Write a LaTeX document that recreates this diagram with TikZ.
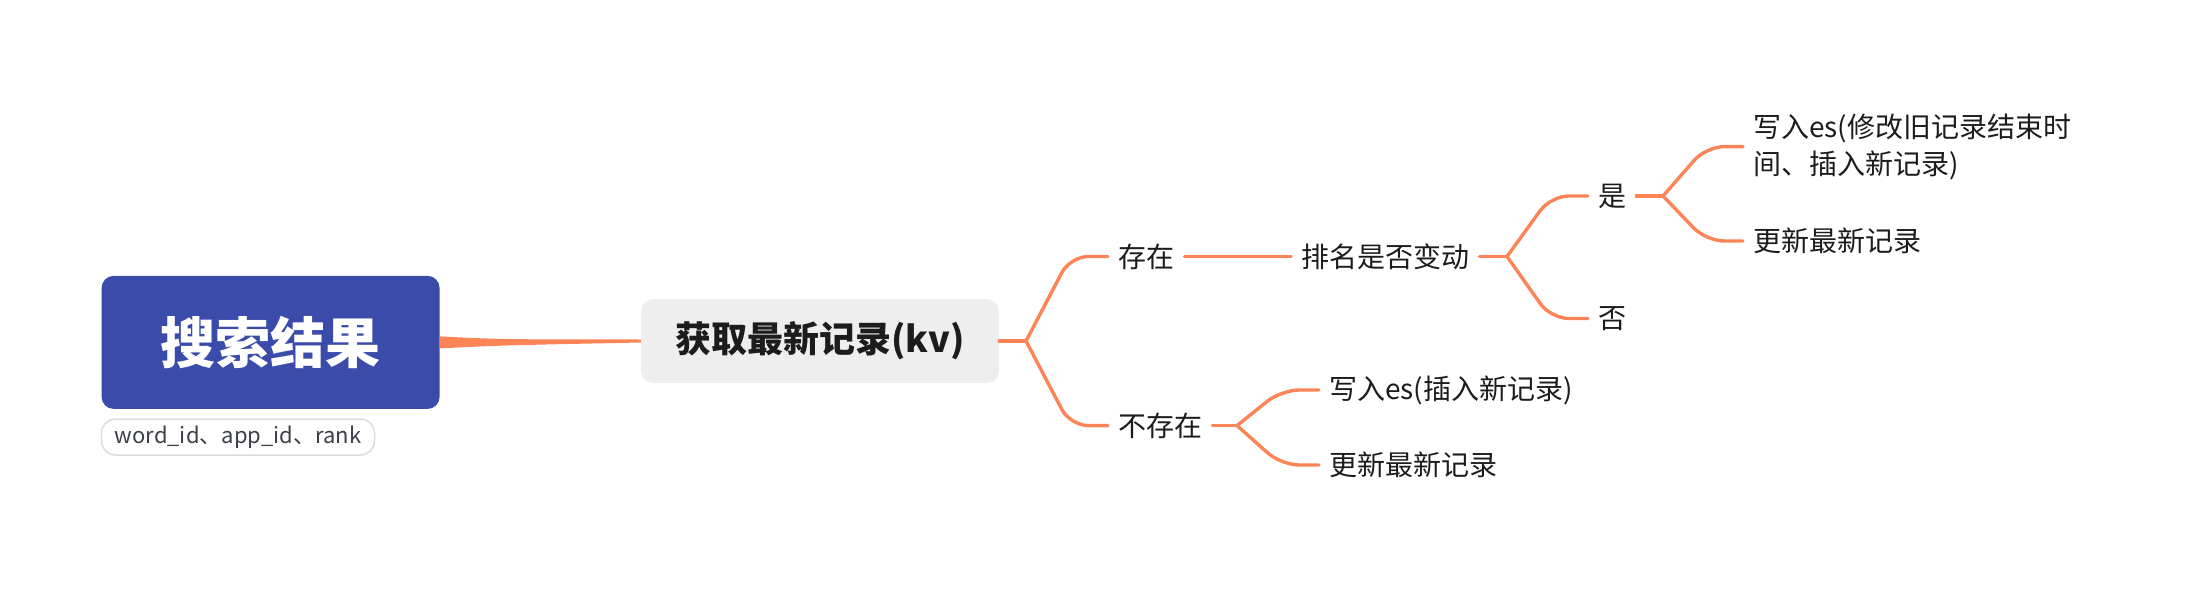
\documentclass[tikz,border=0pt]{standalone}
\usepackage{fontspec}
\setmainfont{Noto Sans CJK SC}
\usetikzlibrary{calc}
\definecolor{rootblue}{HTML}{3A4BAA}
\definecolor{orangeline}{HTML}{FC8457}
\definecolor{graybox}{HTML}{EEEEEE}
\definecolor{txt}{HTML}{1C1C1C}
\definecolor{lbltxt}{HTML}{3C4048}
\definecolor{lblborder}{HTML}{DCDCDC}
\begin{document}
\begin{tikzpicture}[x=1pt,y=-1pt,
  rootnode/.style={fill=rootblue, rounded corners=12pt, minimum width=338pt, minimum height=133pt, inner sep=0pt, text=white, font=\fontsize{55}{66}\selectfont\bfseries},
  lblnode/.style={draw=lblborder, line width=1.5pt, fill=white, rounded corners=14pt, minimum width=273pt, minimum height=36pt, inner sep=0pt, text=lbltxt, font=\fontsize{22}{26}\selectfont},
  mainnode/.style={fill=graybox, rounded corners=12pt, minimum width=358pt, minimum height=84pt, inner sep=0pt, text=txt, font=\fontsize{36}{42}\selectfont\bfseries},
  txtnode/.style={anchor=west, inner xsep=10pt, inner ysep=2pt, text=txt, font=\fontsize{28}{37}\selectfont},
  conn/.style={draw=orangeline, line width=3.4pt, line cap=round, line join=round},
  branch/.style={conn, rounded corners=18pt, to path={let \p1=(\tikztostart), \p2=(\tikztotarget) in -- ({\x1+0.54*(\x2-\x1)},\y2) -- (\tikztotarget)}}
]
\useasboundingbox (0,0) rectangle (2210,596);
% nodes
\node[rootnode] (root) at (270.6,342.4) {搜索结果};
\node[lblnode] (lbl) at (238,437) {word\_id、app\_id、rank};
\node[mainnode] (main) at (820,341) {获取最新记录(kv)};
\coordinate (j1) at (1026,341);
\node[txtnode] (cun) at (1108,256.5) {存在};
\node[txtnode] (bucun) at (1108,425.6) {不存在};
\node[txtnode] (pm) at (1291,256.5) {排名是否变动};
\coordinate (j2) at (1507,256.5);
\node[txtnode] (shi) at (1588,196) {是};
\node[txtnode] (fou) at (1588,318.5) {否};
\coordinate (j3) at (1663,196);
\node[txtnode, align=left] (w1) at (1743,146.6) {写入es(修改旧记录结束时\\间、插入新记录)};
\node[txtnode] (g1) at (1743,241) {更新最新记录};
\coordinate (j4) at (1237,425.6);
\node[txtnode] (w2) at (1319,390) {写入es(插入新记录)};
\node[txtnode] (g2) at (1319,465) {更新最新记录};
% connectors
\fill[orangeline] ($(root.east)+(0,-6)$) .. controls ($(root.east)+(60,-3)$) .. ($(main.west)+(0,-1.5)$) -- ($(main.west)+(0,1.5)$) .. controls ($(root.east)+(60,3)$) .. ($(root.east)+(0,6)$) -- cycle;
\draw[conn] (main.east) -- (j1);
\draw[branch] (j1) to (cun.west);
\draw[branch] (j1) to (bucun.west);
\draw[conn] (cun.east) -- (pm.west);
\draw[conn] (pm.east) -- (j2);
\draw[branch] (j2) to (shi.west);
\draw[branch] (j2) to (fou.west);
\draw[conn] (shi.east) -- (j3);
\draw[branch] (j3) to (w1.west);
\draw[branch] (j3) to (g1.west);
\draw[conn] (bucun.east) -- (j4);
\draw[branch] (j4) to (w2.west);
\draw[branch] (j4) to (g2.west);
\end{tikzpicture}
\end{document}
